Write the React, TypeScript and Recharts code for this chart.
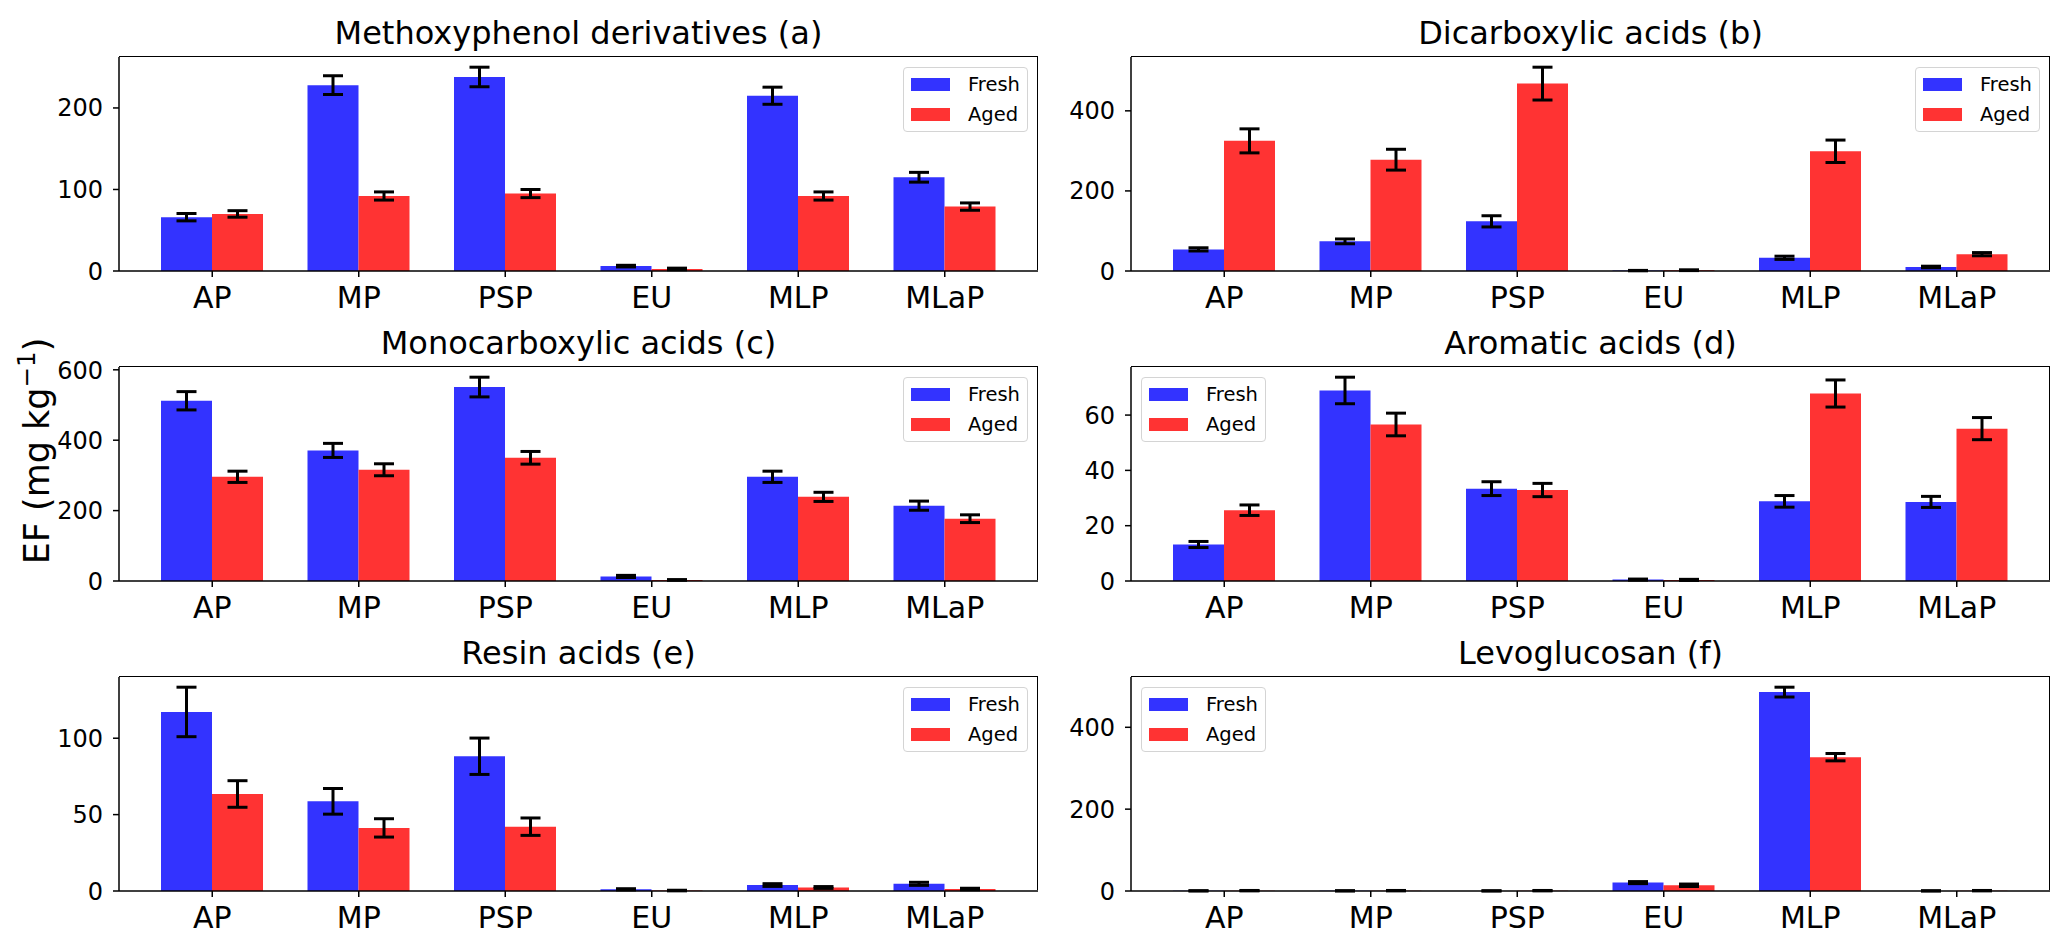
import React from 'react';
import { BarChart, Bar, XAxis, YAxis, ErrorBar, Legend } from 'recharts';

// sampling sites
const categories = ['AP', 'MP', 'PSP', 'EU', 'MLP', 'MLaP'];
const seriesNames = ['Fresh', 'Aged'];

// (a) methoxyphenol derivatives
const methoxyFresh = [66, 228, 238, 6, 215, 115];
const methoxyAged = [70, 92, 95, 2.5, 92, 79];
const methoxyFreshErr = [4.5, 11.5, 12, 1, 10.5, 6];
const methoxyAgedErr = [4, 5, 5, 1, 5, 4.5];

// (b) dicarboxylic acids
const dicarbFresh = [54, 74, 124, 1, 33, 10];
const dicarbAged = [325, 278, 468, 2, 299, 42];
const dicarbFreshErr = [4, 6, 14, 0.5, 4, 2];
const dicarbAgedErr = [30, 26, 41, 1, 28, 4];

// (c) monocarboxylic acids
const monoFresh = [512, 371, 551, 13, 296, 214];
const monoAged = [296, 316, 350, 3, 239, 177];
const monoFreshErr = [26, 20, 28, 3, 16, 13];
const monoAgedErr = [16, 17, 18, 1, 13, 11];

// (d) aromatic acids
const aromFresh = [13.2, 68.9, 33.4, 0.5, 28.8, 28.6];
const aromAged = [25.6, 56.6, 32.9, 0.4, 67.8, 55.1];
const aromFreshErr = [1.1, 4.8, 2.5, 0.2, 2.1, 2];
const aromAgedErr = [1.9, 4.1, 2.4, 0.2, 4.9, 4];

// (e) resin acids
const resinFresh = [117.2, 58.7, 88.2, 1.1, 3.9, 4.7];
const resinAged = [63.5, 41.3, 42.1, 0.3, 2.3, 1.3];
const resinFreshErr = [16.2, 8.4, 11.9, 0.4, 0.9, 1];
const resinAgedErr = [8.7, 6, 5.7, 0.2, 0.6, 0.5];

// (f) levoglucosan
const levoFresh = [0.4, 0.4, 0.3, 20.5, 486, 0.3];
const levoAged = [0.8, 0.8, 0.8, 14, 327, 0.8];
const levoFreshErr = [0.3, 0.3, 0.3, 2.5, 12, 0.3];
const levoAgedErr = [0.5, 0.5, 0.5, 3, 9, 0.5];

const FRESH = '#3333ff';
const AGED = '#ff3333';
const FONT = '"DejaVu Sans", sans-serif';

const PLOT_W = 919;
const PLOT_H = 214;
const Y_AXIS_W = 90;
const X_AXIS_H = 50;
const MARGIN = { top: 10, right: 10, bottom: 0, left: 0 };
const CHART_W = MARGIN.left + Y_AXIS_W + PLOT_W + MARGIN.right;
const CHART_H = MARGIN.top + PLOT_H + X_AXIS_H + MARGIN.bottom;

const COL_LEFT = [119, 1131];
const ROW_TOP = [57, 367, 677];

const LEGEND_W = 125;
const LEGEND_H = 65;

const LegendBox = ({ payload }: any) => {
  const items = [...(payload || [])].sort((a: any, b: any) => seriesNames.indexOf(a.value) - seriesNames.indexOf(b.value));
  return (
    <div
      style={{
        width: LEGEND_W - 2,
        height: LEGEND_H - 2,
        border: '1px solid #d4d4d4',
        borderRadius: 4,
        background: 'rgba(255,255,255,0.8)',
        fontFamily: FONT,
      }}
    >
      {items.map((p: any, i: number) => (
        <div key={p.value} style={{ display: 'flex', alignItems: 'center', height: 30, marginTop: i === 0 ? 1 : 0 }}>
          <span style={{ display: 'inline-block', width: 39, height: 13, background: p.color, marginLeft: 7, marginRight: 18 }} />
          <span style={{ fontSize: 19.5, color: '#000' }}>{p.value}</span>
        </div>
      ))}
    </div>
  );
};

const Panel = ({ title, fresh, aged, freshErr, agedErr, ticks, legendLeft, col, row }: any) => {
  const data = categories.map((name, i) => ({
    name,
    fresh: fresh[i],
    aged: aged[i],
    freshErr: freshErr[i],
    agedErr: agedErr[i],
  }));
  const top = Math.max(...categories.map((_, i) => Math.max(fresh[i] + freshErr[i], aged[i] + agedErr[i])));
  const yMax = top * 1.05;
  const plotLeft = COL_LEFT[col];
  const plotTop = ROW_TOP[row];
  const legendX = legendLeft ? MARGIN.left + Y_AXIS_W + 10 : MARGIN.left + Y_AXIS_W + PLOT_W - 10 - LEGEND_W;

  return (
    <>
      <div
        style={{
          position: 'absolute',
          left: plotLeft,
          width: PLOT_W,
          top: plotTop - 24 - 20,
          height: 40,
          lineHeight: '40px',
          textAlign: 'center',
          fontSize: 32,
          fontFamily: FONT,
          color: '#000',
        }}
      >
        {title}
      </div>
      <div style={{ position: 'absolute', left: plotLeft - Y_AXIS_W - MARGIN.left, top: plotTop - MARGIN.top }}>
        <BarChart width={CHART_W} height={CHART_H} data={data} margin={MARGIN} barGap={0} barSize={51}>
          <XAxis
            dataKey="name"
            padding={{ left: 20, right: 20 }}
            height={X_AXIS_H}
            tickSize={6}
            tickMargin={10}
            axisLine={{ stroke: '#000', strokeWidth: 1.5 }}
            tickLine={{ stroke: '#000', strokeWidth: 1.5 }}
            tick={{ fill: '#000', fontSize: 30, fontFamily: FONT }}
            interval={0}
          />
          <YAxis
            type="number"
            domain={[0, yMax]}
            ticks={ticks}
            width={Y_AXIS_W}
            tickSize={6}
            tickMargin={10}
            axisLine={{ stroke: '#000', strokeWidth: 1.5 }}
            tickLine={{ stroke: '#000', strokeWidth: 1.5 }}
            tick={{ fill: '#000', fontSize: 24, fontFamily: FONT }}
            allowDataOverflow
          />
          <Legend
            layout="vertical"
            align="center"
            verticalAlign="middle"
            content={<LegendBox />}
            wrapperStyle={{ left: legendX, top: MARGIN.top + 10, width: LEGEND_W, height: LEGEND_H }}
          />
          <Bar dataKey="fresh" name="Fresh" fill={FRESH} isAnimationActive={false}>
            <ErrorBar dataKey="freshErr" direction="y" width={10} stroke="#000" strokeWidth={3} isAnimationActive={false} />
          </Bar>
          <Bar dataKey="aged" name="Aged" fill={AGED} isAnimationActive={false}>
            <ErrorBar dataKey="agedErr" direction="y" width={10} stroke="#000" strokeWidth={3} isAnimationActive={false} />
          </Bar>
        </BarChart>
      </div>
      {/* top and right spines of the axes frame */}
      <div
        style={{
          position: 'absolute',
          left: plotLeft,
          top: plotTop - 0.75,
          width: PLOT_W,
          height: PLOT_H,
          borderTop: '1.5px solid #000',
          borderRight: '1.5px solid #000',
          boxSizing: 'border-box',
          pointerEvents: 'none',
        }}
      />
    </>
  );
};

export default function App() {
  return (
    <div style={{ position: 'absolute', left: 0, top: 0, width: 2067, height: 947, background: '#fff', overflow: 'hidden' }}>
      <Panel title="Methoxyphenol derivatives (a)" fresh={methoxyFresh} aged={methoxyAged} freshErr={methoxyFreshErr} agedErr={methoxyAgedErr} ticks={[0, 100, 200]} col={0} row={0} />
      <Panel title="Dicarboxylic acids (b)" fresh={dicarbFresh} aged={dicarbAged} freshErr={dicarbFreshErr} agedErr={dicarbAgedErr} ticks={[0, 200, 400]} col={1} row={0} />
      <Panel title="Monocarboxylic acids (c)" fresh={monoFresh} aged={monoAged} freshErr={monoFreshErr} agedErr={monoAgedErr} ticks={[0, 200, 400, 600]} col={0} row={1} />
      <Panel title="Aromatic acids (d)" fresh={aromFresh} aged={aromAged} freshErr={aromFreshErr} agedErr={aromAgedErr} ticks={[0, 20, 40, 60]} legendLeft col={1} row={1} />
      <Panel title="Resin acids (e)" fresh={resinFresh} aged={resinAged} freshErr={resinFreshErr} agedErr={resinAgedErr} ticks={[0, 50, 100]} col={0} row={2} />
      <Panel title="Levoglucosan (f)" fresh={levoFresh} aged={levoAged} freshErr={levoFreshErr} agedErr={levoAgedErr} ticks={[0, 200, 400]} legendLeft col={1} row={2} />
      <svg style={{ position: 'absolute', left: 0, top: 0 }} width={90} height={947}>
        <text
          x={0}
          y={0}
          transform="translate(49,451) rotate(-90)"
          textAnchor="middle"
          fontSize={35}
          fontFamily={FONT}
          fill="#000"
        >
          EF (mg kg<tspan dy={-14} fontSize={24.5}>−1</tspan><tspan dy={14}>)</tspan>
        </text>
      </svg>
    </div>
  );
}
